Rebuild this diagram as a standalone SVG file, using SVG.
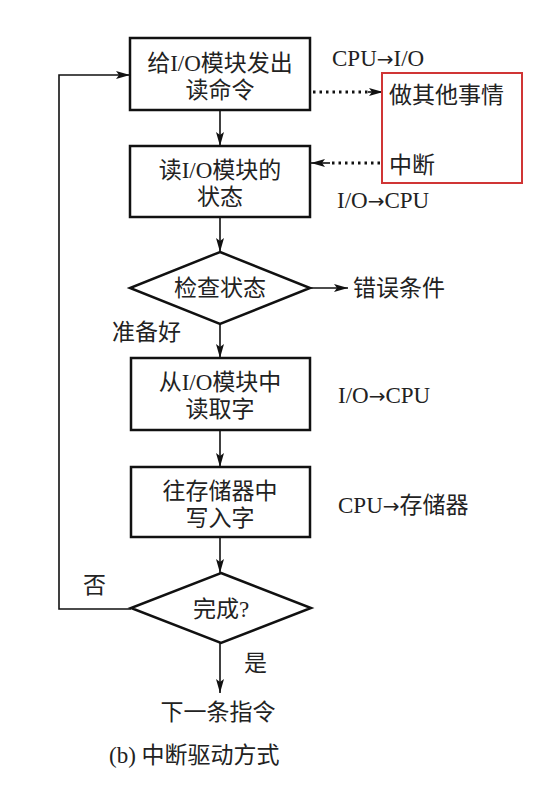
<svg xmlns="http://www.w3.org/2000/svg" width="549" height="786" viewBox="0 0 549 786">
<defs>
<style>
.box{fill:#fff;stroke:#111;stroke-width:2.5}
.ln{fill:none;stroke:#111;stroke-width:1.6}
.dot{fill:none;stroke:#111;stroke-width:3;stroke-dasharray:2.5 4}
.t{font-family:"Liberation Serif","Noto Sans CJK SC",serif;font-size:23px;fill:#222}
.c{text-anchor:middle}
.ar{font-family:"DejaVu Sans",sans-serif;font-size:20px}
</style>
<marker id="ah" viewBox="0 0 14 8" refX="14" refY="4" markerWidth="14" markerHeight="8" markerUnits="userSpaceOnUse" orient="auto">
<path d="M0,0 L14,4 L0,8 L3,4 z" fill="#111"/>
</marker>
</defs>
<rect width="549" height="786" fill="#fff"/>
<g id="connectors">
<line class="ln" x1="220" y1="110" x2="220" y2="146" marker-end="url(#ah)"/>
<line class="ln" x1="220" y1="217" x2="220" y2="252" marker-end="url(#ah)"/>
<line class="ln" x1="310" y1="288" x2="348" y2="288" marker-end="url(#ah)"/>
<line class="ln" x1="220" y1="324" x2="220" y2="358" marker-end="url(#ah)"/>
<line class="ln" x1="220" y1="430" x2="220" y2="467" marker-end="url(#ah)"/>
<line class="ln" x1="220" y1="537" x2="220" y2="573" marker-end="url(#ah)"/>
<line class="ln" x1="220" y1="643" x2="220" y2="693" marker-end="url(#ah)"/>
<polyline class="ln" points="131,609 59,609 59,75 130,75" marker-end="url(#ah)"/>
<line class="dot" x1="313" y1="92" x2="370" y2="92"/>
<line class="ln" x1="368" y1="92" x2="383" y2="92" marker-end="url(#ah)"/>
<line class="dot" x1="380" y1="163" x2="330" y2="163"/>
<line class="ln" x1="330" y1="163" x2="311" y2="163" marker-end="url(#ah)"/>
</g>
<g id="n1"><rect class="box" x="130" y="38" width="180" height="72"/>
<text class="t c" x="220" y="71">给I/O模块发出</text><text class="t c" x="220" y="98">读命令</text></g>
<g id="n2"><rect class="box" x="130" y="146" width="180" height="71"/>
<text class="t c" x="220" y="178">读I/O模块的</text><text class="t c" x="220" y="205">状态</text></g>
<g id="n3"><polygon class="box" points="220,252 310,288 220,324 130,288"/>
<text class="t c" x="220" y="296">检查状态</text></g>
<g id="n4"><rect class="box" x="131" y="358" width="179" height="72"/>
<text class="t c" x="220" y="390">从I/O模块中</text><text class="t c" x="220" y="417">读取字</text></g>
<g id="n5"><rect class="box" x="131" y="467" width="179" height="70"/>
<text class="t c" x="220" y="499">往存储器中</text><text class="t c" x="220" y="526">写入字</text></g>
<g id="n6"><polygon class="box" points="221,573 311,608 221,643 131,608"/>
<text class="t c" x="221" y="617">完成?</text></g>
<g id="other"><rect x="382" y="73" width="140" height="110" fill="none" stroke="#d03535" stroke-width="2"/>
<text class="t" x="389" y="103">做其他事情</text><text class="t" x="389" y="173">中断</text></g>
<g id="labels">
<text class="t" x="332" y="66">CPU<tspan class="ar">→</tspan>I/O</text>
<text class="t" x="337" y="208">I/O<tspan class="ar">→</tspan>CPU</text>
<text class="t" x="353" y="296">错误条件</text>
<text class="t" x="112" y="340">准备好</text>
<text class="t" x="338" y="403">I/O<tspan class="ar">→</tspan>CPU</text>
<text class="t" x="338" y="513">CPU<tspan class="ar">→</tspan>存储器</text>
<text class="t" x="83" y="593">否</text>
<text class="t" x="244" y="671">是</text>
<text class="t c" x="218" y="720">下一条指令</text>
<text class="t" x="109" y="763">(b) 中断驱动方式</text>
</g>
</svg>
